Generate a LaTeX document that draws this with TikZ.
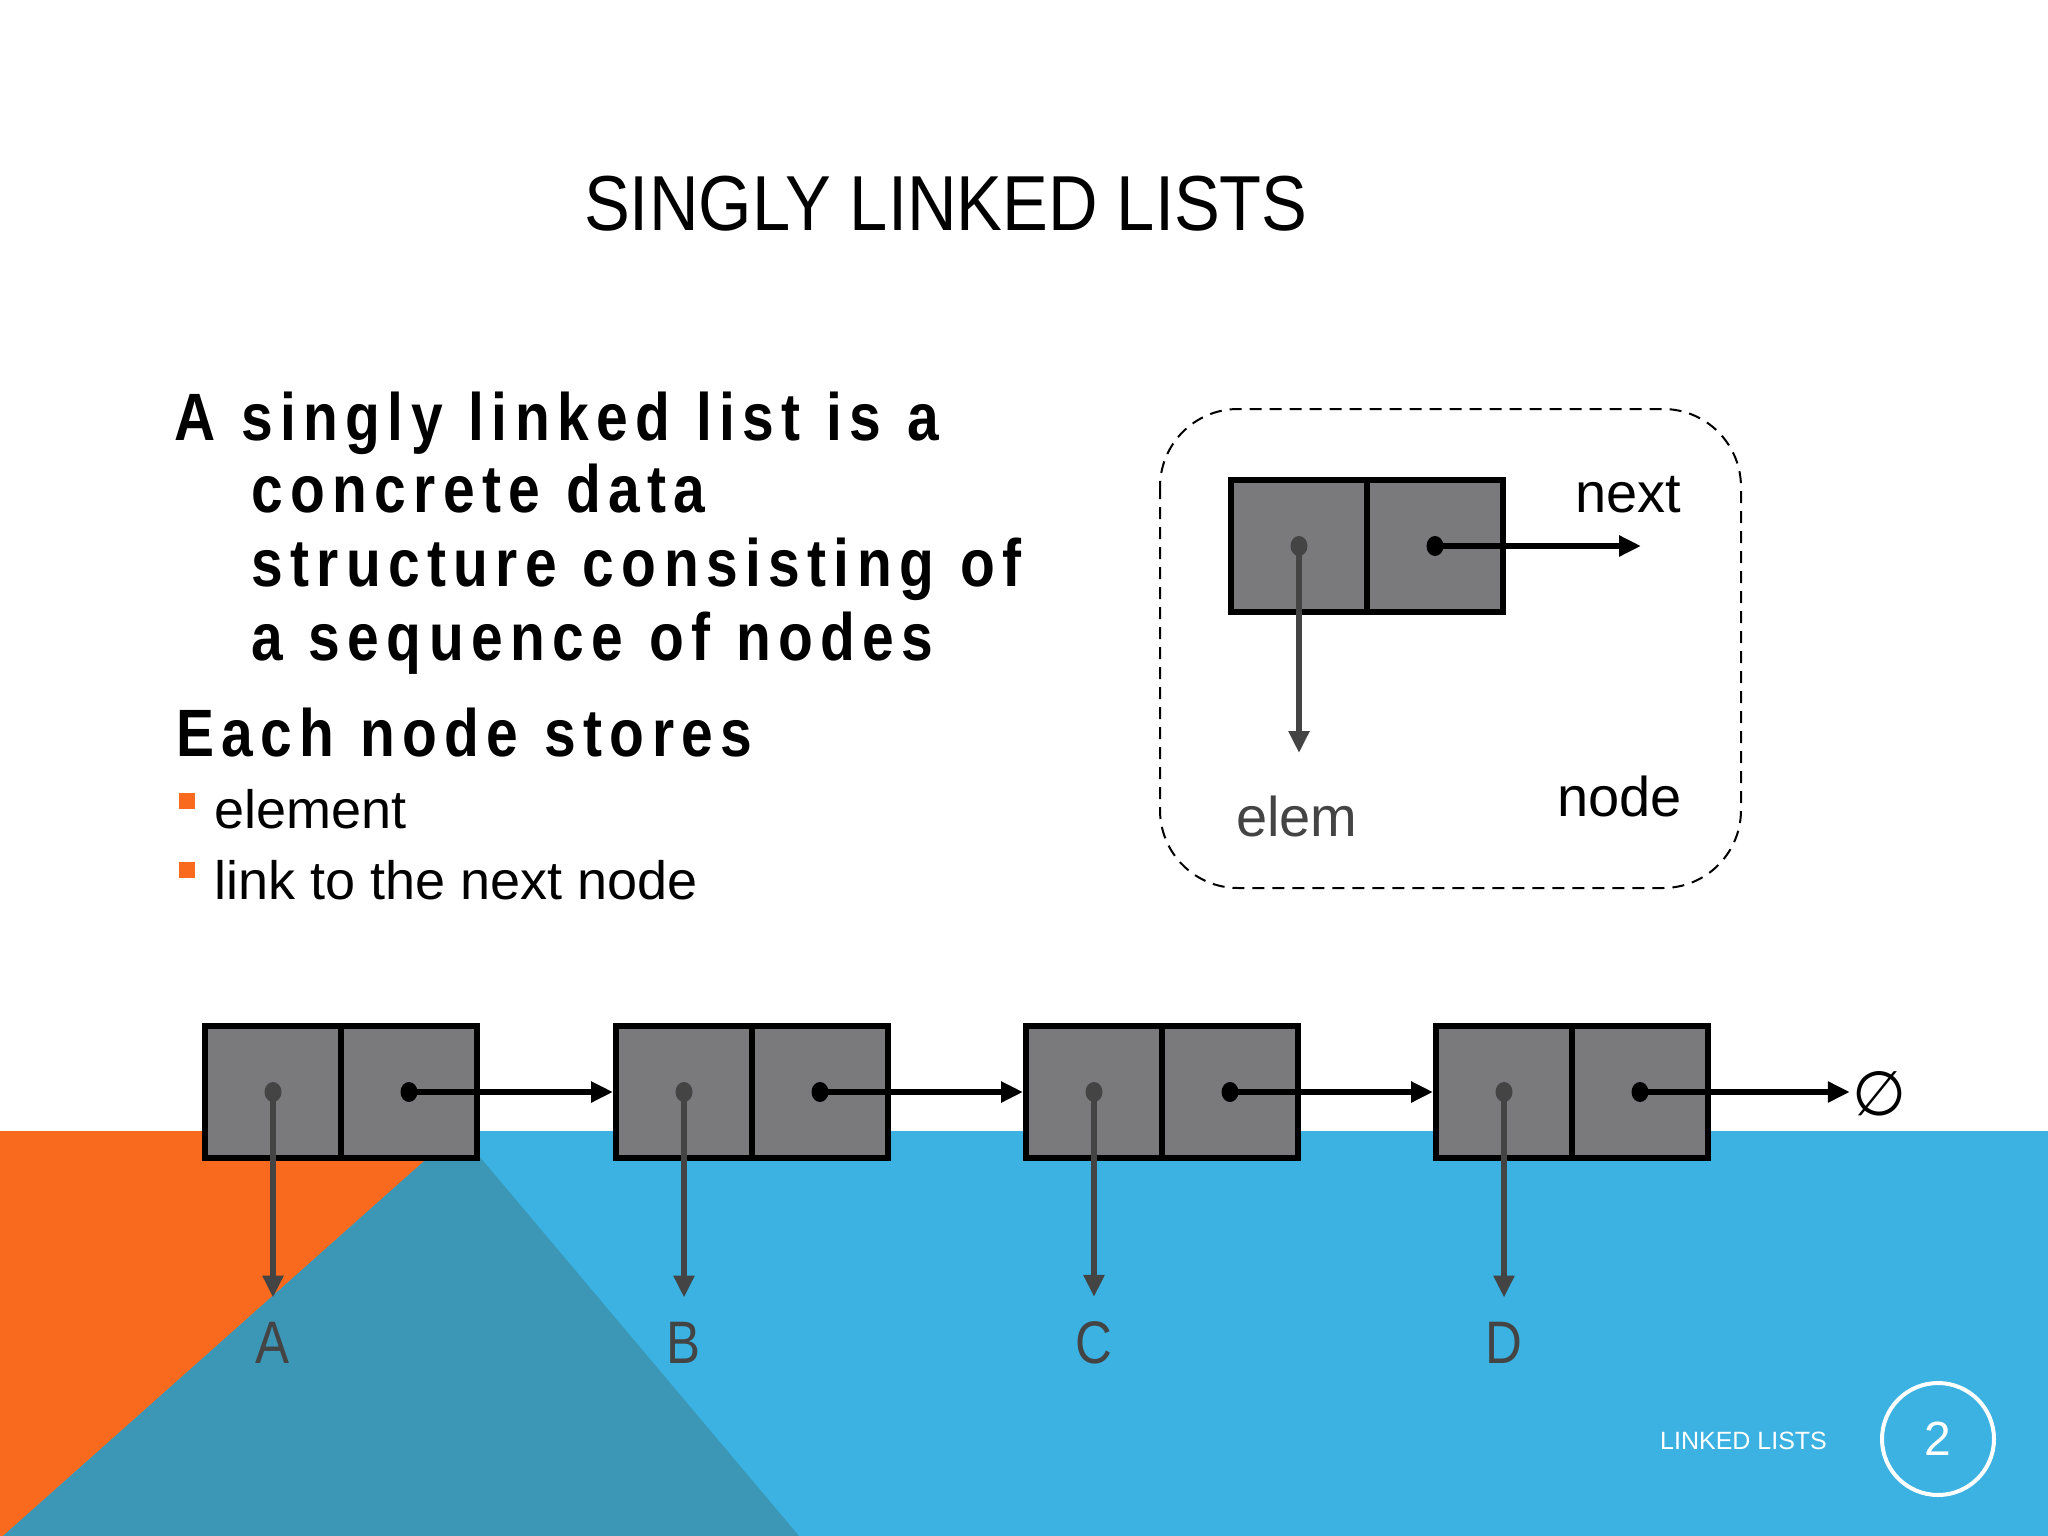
\documentclass[tikz,border=0pt]{standalone}
\usepackage{fontspec}
\setmainfont{Liberation Sans}
\newfontfamily\titlefont[FakeStretch=0.88]{Liberation Sans}
\newfontfamily\boldbody[FakeStretch=0.85,LetterSpace=11,WordSpace=1.12]{Liberation Sans}
\newfontfamily\regbody{Liberation Sans}
\newfontfamily\lblfont[FakeStretch=0.85]{Liberation Sans}
\newfontfamily\symfont{DejaVu Sans}
\usetikzlibrary{arrows.meta,shapes.geometric}
\definecolor{orng}{HTML}{F96A1E}
\definecolor{skyb}{HTML}{3BB2E1}
\definecolor{darkb}{HTML}{3C97B7}
\definecolor{cellg}{HTML}{7A7A7D}
\definecolor{darkg}{HTML}{444444}
\tikzset{
  x=1pt, y=-1pt,
  cell/.style={draw=black, line width=6pt, fill=cellg, minimum width=136pt, minimum height=132pt, inner sep=0pt, outer sep=0pt},
  nextdot/.style={ellipse, fill=black, minimum width=17pt, minimum height=20pt, inner sep=0pt},
  elemdot/.style={ellipse, fill=darkg, minimum width=17pt, minimum height=20pt, inner sep=0pt},
  nextarrow/.style={draw=black, line width=5.5pt, -{Triangle[length=22pt,width=20pt]}},
  elemarrow/.style={draw=darkg, line width=5.5pt, -{Triangle[length=22pt,width=20pt]}},
  bodyline/.style={anchor=base west, inner sep=0pt, font=\boldbody\bfseries\fontsize{67}{80}\selectfont},
  bullettext/.style={anchor=base west, inner sep=0pt, font=\regbody\fontsize{54}{64}\selectfont},
  bulletsq/.style={fill=orng, minimum size=16pt, inner sep=0pt},
  lettlabel/.style={anchor=base, inner sep=0pt, text=darkg, font=\lblfont\fontsize{60}{70}\selectfont},
  smalllabel/.style={anchor=base west, inner sep=0pt, font=\regbody\fontsize{56}{66}\selectfont},
}
\begin{document}
\begin{tikzpicture}
\useasboundingbox (0,0) rectangle (2048,1536);
% background
\fill[white] (0,0) rectangle (2048,1536);
\fill[skyb] (0,1131) rectangle (2048,1536);
\fill[orng] (0,1131) -- (458,1131) -- (3,1536) -- (0,1536) -- cycle;
\fill[darkb] (458,1131) -- (3,1536) -- (799,1536) -- cycle;

% title
\node[anchor=base west, inner sep=0pt, font=\titlefont\fontsize{78}{90}\selectfont] (title) at (584,230) {SINGLY LINKED LISTS};

% body text
\node[bodyline] (l1) at (174,440) {A singly linked list is a};
\node[bodyline] (l2) at (251,512) {concrete data};
\node[bodyline] (l3) at (251,586) {structure consisting of};
\node[bodyline] (l4) at (251,660) {a sequence of nodes};
\node[bodyline] (l5) at (176,756) {Each node stores};
\node[bulletsq] (b1sq) at (187,801) {};
\node[bullettext] (b1t) at (214,828) {element};
\node[bulletsq] (b2sq) at (187,870) {};
\node[bullettext] (b2t) at (214,899) {link to the next node};

% single node illustration
\draw[dashed, dash pattern=on 12pt off 8pt, line width=2pt, rounded corners=78pt] (1160,409) rectangle (1741,888);
\node[cell] (s1) at (1299,546) {};
\node[cell] (s2) at (1435,546) {};
\node[elemdot] (sd1) at (s1.center) {};
\node[nextdot] (sd2) at (s2.center) {};
\coordinate (nexttip) at (1641,546);
\coordinate (elemtip) at (1299,753);
\draw[nextarrow] (sd2.center) -- (nexttip);
\draw[elemarrow] (sd1.center) -- (elemtip);
\node[smalllabel] (nextlbl) at (1575,512) {next};
\node[smalllabel, text=darkg] (elemlbl) at (1236,836) {elem};
\node[smalllabel] (nodelbl) at (1557,816) {node};

% linked list
\foreach \n/\x in {a/202,b/613,c/1023,d/1433}{
  \node[cell] (\n1) at (\x+71,1092) {};
  \node[cell] (\n2) at (\x+207,1092) {};
  \node[elemdot] (\n d1) at (\n1.center) {};
  \node[nextdot] (\n d2) at (\n2.center) {};
}
\node[lettlabel] (la) at (273,1363) {A};
\node[lettlabel] (lb) at (684,1363) {B};
\node[lettlabel] (lc) at (1094,1363) {C};
\node[lettlabel] (ld) at (1504,1363) {D};
\node[inner sep=0pt, font=\symfont\fontsize{62}{70}\selectfont] (nul) at (1879,1094) {∅};

\draw[nextarrow, shorten >=3pt] (ad2.center) -- (b1.west);
\draw[nextarrow, shorten >=3pt] (bd2.center) -- (c1.west);
\draw[nextarrow, shorten >=3pt] (cd2.center) -- (d1.west);
\draw[nextarrow, shorten >=2pt] (dd2.center) -- (nul.west |- dd2.center);

\draw[elemarrow, shorten >=24pt] (ad1.center) -- (la.north);
\draw[elemarrow, shorten >=24pt] (bd1.center) -- (lb.north);
\draw[elemarrow, shorten >=24pt] (cd1.center) -- (lc.north);
\draw[elemarrow, shorten >=24pt] (dd1.center) -- (ld.north);

% footer
\node[anchor=base west, inner sep=0pt, text=white, font=\regbody\fontsize{25}{30}\selectfont] (footer) at (1660,1449) {LINKED LISTS};
\node[circle, draw=white, line width=4pt, minimum size=112pt, inner sep=0pt, text=white, font=\regbody\fontsize{48}{56}\selectfont] (pagenum) at (1938,1439) {2};
\end{tikzpicture}
\end{document}
